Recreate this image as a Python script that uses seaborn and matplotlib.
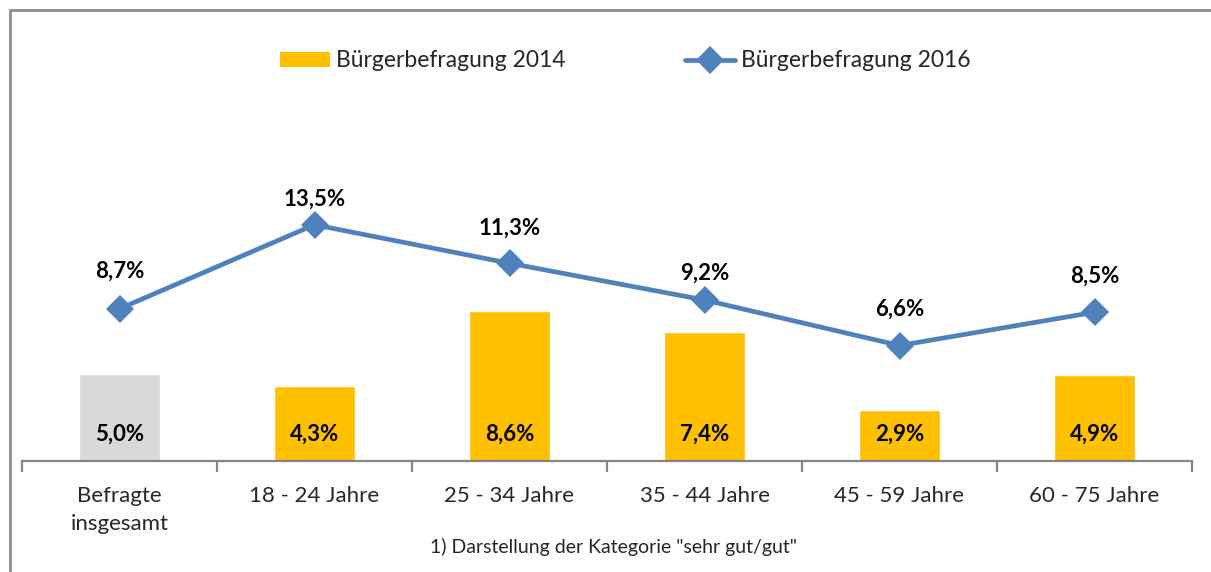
import matplotlib.pyplot as plt
from matplotlib.patches import Patch, Rectangle
from matplotlib.lines import Line2D
import seaborn as sns
import pandas as pd

categories = ['Befragte\ninsgesamt', '18 - 24 Jahre', '25 - 34 Jahre',
              '35 - 44 Jahre', '45 - 59 Jahre', '60 - 75 Jahre']
values_2014 = [5.0, 4.3, 8.6, 7.4, 2.9, 4.9]
values_2016 = [8.7, 13.5, 11.3, 9.2, 6.6, 8.5]
bar_colors = ['#D9D9D9', '#FFC000', '#FFC000', '#FFC000', '#FFC000', '#FFC000']
# label distance above the 2016 points, in points (as placed in the original)
label_offsets = [27, 18.5, 25, 19.5, 26, 26]

df = pd.DataFrame({'cat': categories, 'v14': values_2014, 'v16': values_2016})

sns.set_theme(style='white')
plt.rcParams['font.family'] = ['Lato', 'DejaVu Sans']

fig = plt.figure(figsize=(12.11, 5.72), dpi=100)
ax = fig.add_axes([22 / 1211, 111 / 572, 1170 / 1211, 350 / 572])

sns.barplot(data=df, x='cat', y='v14', hue='cat', palette=bar_colors,
            width=0.415, legend=False, saturation=1, ax=ax)
sns.lineplot(data=df, x='cat', y='v16', color='#4F81BD', linewidth=3.4,
             marker='D', markersize=14, markeredgewidth=0, sort=False, ax=ax)

for i, (a, b) in enumerate(zip(values_2014, values_2016)):
    ax.text(i, 1.55, f'{a:.1f}%'.replace('.', ','), ha='center', va='center',
            fontsize=16, fontweight='bold', color='black')
    ax.annotate(f'{b:.1f}%'.replace('.', ','), (i, b), xytext=(0, label_offsets[i]),
                textcoords='offset points', ha='center', va='center',
                fontsize=16, fontweight='bold', color='black')

ax.set_xlim(-0.5, 5.5)
ax.set_ylim(0, 20)
ax.set_xlabel('')
ax.set_ylabel('')
ax.set_yticks([])
for s in ['top', 'right', 'left']:
    ax.spines[s].set_visible(False)
ax.spines['bottom'].set_color('#868686')
ax.spines['bottom'].set_linewidth(1.6)
ax.set_xticks(range(len(categories)))
ax.set_xticklabels(categories, fontsize=16, linespacing=1.5)
ax.set_xticks([i - 0.5 for i in range(len(categories) + 1)], minor=True)
ax.tick_params(axis='x', which='major', length=0, pad=18)
ax.tick_params(axis='x', which='minor', length=8, width=1.6, color='#868686',
               direction='out', bottom=True)

handles = [Patch(facecolor='#FFC000', edgecolor='none', label='Bürgerbefragung 2014'),
           Line2D([], [], color='#4F81BD', linewidth=3.4, marker='D', markersize=14,
                  markeredgewidth=0, label='Bürgerbefragung 2016')]
fig.legend(handles=handles, loc='center', bbox_to_anchor=(625 / 1211, 1 - 61 / 572),
           ncol=2, frameon=False, fontsize=16.5, columnspacing=5.2,
           handlelength=2.2, handletextpad=0.25, handleheight=0.6)

fig.text(613 / 1211, 1 - 547 / 572, '1) Darstellung der Kategorie "sehr gut/gut"',
         ha='center', va='center', fontsize=14)

fig.patches.append(Rectangle((10 / 1211, -0.1), 1.2, 0.1 + (572 - 9.5) / 572,
                             transform=fig.transFigure, fill=False,
                             edgecolor='#8C8C8C', linewidth=2))

fig.savefig('out.png', dpi=100)
